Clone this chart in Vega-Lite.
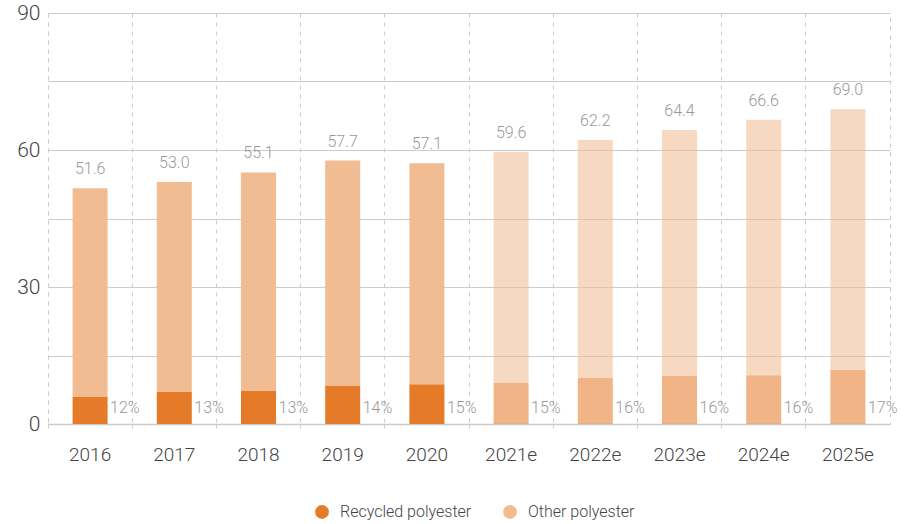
{
  "$schema": "https://vega.github.io/schema/vega-lite/v6.json",
  "autosize": {"type": "none"},
  "width": 842,
  "height": 411,
  "padding": {"left": 48, "top": 13, "right": 20, "bottom": 100},
  "background": "white",
  "config": {
    "font": "Roboto",
    "view": {"stroke": "#cccccc", "strokeDash": [4, 5], "strokeWidth": 1},
    "axis": {"labelFont": "Roboto", "labelFontWeight": 300, "labelColor": "#444444"}
  },
  "datasets": {
    "bars": [
      {"year": "2016", "series": "Recycled polyester", "value": 6.0, "status": "actual"},
      {"year": "2016", "series": "Other polyester", "value": 45.6, "status": "actual"},
      {"year": "2017", "series": "Recycled polyester", "value": 7.0, "status": "actual"},
      {"year": "2017", "series": "Other polyester", "value": 46.0, "status": "actual"},
      {"year": "2018", "series": "Recycled polyester", "value": 7.2, "status": "actual"},
      {"year": "2018", "series": "Other polyester", "value": 47.9, "status": "actual"},
      {"year": "2019", "series": "Recycled polyester", "value": 8.3, "status": "actual"},
      {"year": "2019", "series": "Other polyester", "value": 49.4, "status": "actual"},
      {"year": "2020", "series": "Recycled polyester", "value": 8.7, "status": "actual"},
      {"year": "2020", "series": "Other polyester", "value": 48.4, "status": "actual"},
      {"year": "2021e", "series": "Recycled polyester", "value": 9.0, "status": "estimate"},
      {"year": "2021e", "series": "Other polyester", "value": 50.6, "status": "estimate"},
      {"year": "2022e", "series": "Recycled polyester", "value": 10.1, "status": "estimate"},
      {"year": "2022e", "series": "Other polyester", "value": 52.1, "status": "estimate"},
      {"year": "2023e", "series": "Recycled polyester", "value": 10.5, "status": "estimate"},
      {"year": "2023e", "series": "Other polyester", "value": 53.9, "status": "estimate"},
      {"year": "2024e", "series": "Recycled polyester", "value": 10.7, "status": "estimate"},
      {"year": "2024e", "series": "Other polyester", "value": 55.9, "status": "estimate"},
      {"year": "2025e", "series": "Recycled polyester", "value": 11.8, "status": "estimate"},
      {"year": "2025e", "series": "Other polyester", "value": 57.2, "status": "estimate"}
    ],
    "totals": [
      {"year": "2016", "total": 51.6, "share": "12%"},
      {"year": "2017", "total": 53.0, "share": "13%"},
      {"year": "2018", "total": 55.1, "share": "13%"},
      {"year": "2019", "total": 57.7, "share": "14%"},
      {"year": "2020", "total": 57.1, "share": "15%"},
      {"year": "2021e", "total": 59.6, "share": "15%"},
      {"year": "2022e", "total": 62.2, "share": "16%"},
      {"year": "2023e", "total": 64.4, "share": "16%"},
      {"year": "2024e", "total": 66.6, "share": "16%"},
      {"year": "2025e", "total": 69.0, "share": "17%"}
    ]
  },
  "encoding": {
    "x": {
      "field": "year",
      "type": "nominal",
      "sort": null,
      "scale": {"paddingInner": 0, "paddingOuter": 0},
      "axis": {
        "title": null,
        "labelAngle": 0,
        "labelFontSize": 19,
        "labelPadding": 14,
        "bandPosition": 0,
        "grid": true,
        "gridColor": "#cccccc",
        "gridDash": [4, 5],
        "gridWidth": 1,
        "ticks": true,
        "tickSize": 7,
        "tickColor": "#cccccc",
        "tickDash": [4, 5],
        "domain": true,
        "domainColor": "#cccccc",
        "domainWidth": 1.5
      }
    }
  },
  "layer": [
    {
      "data": {"name": "bars"},
      "mark": {"type": "bar", "width": 35},
      "encoding": {
        "y": {
          "field": "value",
          "type": "quantitative",
          "stack": "zero",
          "scale": {"domain": [0, 90], "nice": false},
          "axis": {
            "title": null,
            "values": [0, 15, 30, 45, 60, 75, 90],
            "labelExpr": "datum.value % 30 == 0 ? datum.label : ''",
            "labelFontSize": 21,
            "labelPadding": 8,
            "ticks": false,
            "domain": false,
            "grid": true,
            "gridColor": "#cccccc",
            "gridWidth": 1
          }
        },
        "color": {
          "field": "series",
          "type": "nominal",
          "scale": {
            "domain": ["Recycled polyester", "Other polyester"],
            "range": ["#e57a28", "#f1bc91"]
          },
          "legend": {
            "title": null,
            "orient": "none",
            "legendX": 266,
            "legendY": 491,
            "direction": "horizontal",
            "symbolType": "circle",
            "symbolSize": 190,
            "symbolStrokeWidth": 0,
            "labelFont": "Roboto",
            "labelFontWeight": 300,
            "labelFontSize": 16,
            "labelColor": "#444444",
            "columnPadding": 30,
            "labelOffset": 10
          }
        },
        "opacity": {
          "field": "status",
          "type": "nominal",
          "scale": {"domain": ["actual", "estimate"], "range": [1, 0.56]},
          "legend": null
        },
        "order": {"field": "series", "sort": "descending"}
      }
    },
    {
      "data": {"name": "totals"},
      "mark": {"type": "text", "baseline": "bottom", "dy": -11, "fontSize": 16, "color": "#999999", "font": "Roboto", "fontWeight": 300},
      "encoding": {
        "y": {"field": "total", "type": "quantitative"},
        "text": {"field": "total", "type": "quantitative", "format": ".1f"}
      }
    },
    {
      "data": {"name": "totals"},
      "mark": {"type": "text", "align": "left", "baseline": "middle", "dx": 20, "fontSize": 16, "color": "#999999", "font": "Roboto", "fontWeight": 300},
      "encoding": {
        "y": {"datum": 3.6, "type": "quantitative"},
        "text": {"field": "share", "type": "nominal"}
      }
    }
  ]
}
